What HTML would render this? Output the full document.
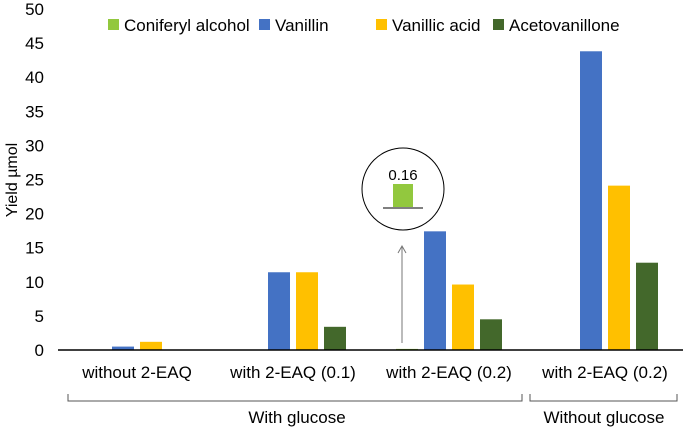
<!DOCTYPE html>
<html><head><meta charset="utf-8"><style>
body{margin:0;background:#fff}
svg text{font-family:"Liberation Sans",Arial,sans-serif;fill:#000}
</style></head><body>
<svg width="685" height="431" id="c">
</svg>
<script>
const categories=["without 2-EAQ","with 2-EAQ (0.1)","with 2-EAQ (0.2)","with 2-EAQ (0.2)"];
const seriesNames=["Coniferyl alcohol","Vanillin","Vanillic acid","Acetovanillone"];
const coniferyl=[0,0,0.16,0];
const vanillin=[0.5,11.4,17.4,43.8];
const vanillicAcid=[1.2,11.4,9.6,24.1];
const acetovanillone=[0,3.4,4.5,12.8];
const yTicks=[0,5,10,15,20,25,30,35,40,45,50];
const colors=["#92C83E","#4472C4","#FFC000","#43682B"];
const NS="http://www.w3.org/2000/svg";
const svg=document.getElementById('c');
function el(t,a,txt){const e=document.createElementNS(NS,t);for(const k in a)e.setAttribute(k,a[k]);if(txt!==undefined)e.textContent=txt;svg.appendChild(e);return e;}
const y0=350,y1=9,yMax=50,xL=58;
function y(v){return y0-(y0-y1)*v/yMax;}
function xc(i){return 137+156*i;}
yTicks.forEach(t=>{const e=el('text',{x:44,y:y(t)+6,'text-anchor':'end','font-size':17},t);

});
const yl=el('text',{x:0,y:0,transform:'translate(17,180) rotate(-90)','text-anchor':'middle','font-size':16},'Yield  µmol');

const series=[coniferyl,vanillin,vanillicAcid,acetovanillone];
const offs=[-42,-14,14,42];
series.forEach((s,si)=>s.forEach((v,i)=>{
 const h=y0-y(v);
 const r=el('rect',{x:xc(i)+offs[si]-11,y:y(v),width:22,height:Math.max(h,0),fill:colors[si]});
 
 
}));
const ax=el('line',{x1:xL,y1:y0,x2:683,y2:y0,stroke:'#000','stroke-width':1.5});

categories.forEach((c,i)=>{const e=el('text',{x:xc(i),y:378,'text-anchor':'middle','font-size':17},c);
});
// legend
const lx=[112,263,380,497];
seriesNames.forEach((n,i)=>{
 const r=el('rect',{x:lx[i]-4,y:19,width:11,height:11,fill:colors[i]});
 
 const t=el('text',{x:lx[i]+12,y:31,'font-size':17},n);
 
});
// inset
const ci=el('circle',{cx:403,cy:189,r:41,fill:'#fff',stroke:'#000','stroke-width':1});

const ir=el('rect',{x:393,y:184,width:20,height:23,fill:colors[0]});

const il=el('line',{x1:383,y1:208,x2:423,y2:208,stroke:'#000'});

const it=el('text',{x:403,y:180,'text-anchor':'middle','font-size':15},coniferyl[2].toFixed(2));

const ar=el('path',{d:'M402 343 L402 246 M398 253 L402 246 L406 253',stroke:'#777',fill:'none','stroke-width':1});

// brackets
const b1=el('path',{d:'M68 394 L68 401 L522 401 L522 394',stroke:'#555',fill:'none'});

const b2=el('path',{d:'M530 394 L530 401 L677 401 L677 394',stroke:'#555',fill:'none'});

const g1=el('text',{x:297,y:423,'text-anchor':'middle','font-size':17},'With glucose');

const g2=el('text',{x:604,y:423,'text-anchor':'middle','font-size':17},'Without glucose');

</script>
</body></html>
